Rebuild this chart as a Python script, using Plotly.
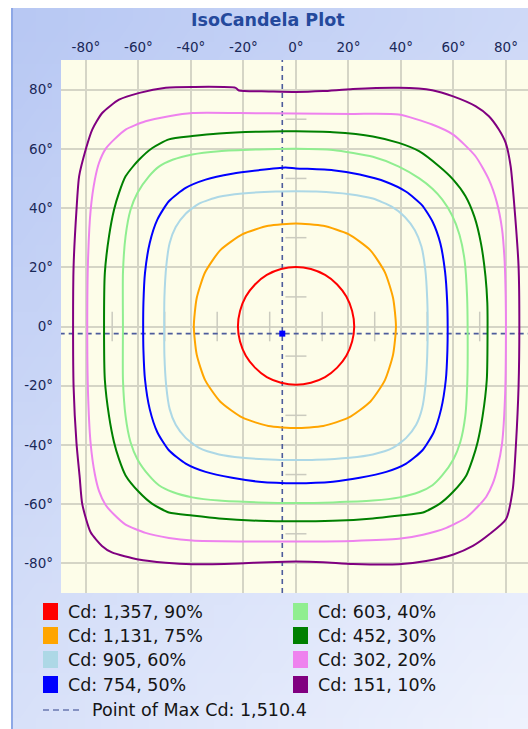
import base64
import struct
import zlib

import plotly.graph_objects as go

# ---------------------------------------------------------------------------
# Iso-candela contours (horizontal angle, vertical angle) in degrees
# ---------------------------------------------------------------------------
CD_VALUES = [1357, 1131, 905, 754, 603, 452, 302, 151]
PERCENTS = [90, 75, 60, 50, 40, 30, 20, 10]
LINE_COLORS = ["#ff0000", "#ffa500", "#add8e6", "#0000ff",
               "#90ee90", "#008000", "#ee82ee", "#800080"]

ISO_90 = [(0, 20.1), (-5.7, 19.4), (-11.1, 17.4), (-15.6, 14.2), (-19.1, 10.1), (-21.3, 5.2),
          (-22.1, 0), (-21.3, -5.1), (-19.1, -9.9), (-15.6, -13.9), (-11.1, -17.1),
          (-5.7, -19.0), (0, -19.7), (5.7, -19.0), (11.1, -17.1), (15.7, -13.9), (19.2, -9.9),
          (21.4, -5.1), (22.2, 0), (21.4, 5.2), (19.2, 10.1), (15.7, 14.2), (11.1, 17.4),
          (5.7, 19.4), (0, 20.1)]

ISO_75 = [(0, 34.8), (-10.5, 34.0), (-20.3, 31.2), (-28.8, 25.8), (-34.6, 18.3), (-37.8, 9.6),
          (-38.9, 0), (-37.8, -9.5), (-34.6, -18.1), (-28.8, -25.4), (-20.3, -30.8),
          (-10.5, -33.6), (0, -34.3), (10.4, -33.6), (20.0, -30.8), (28.3, -25.4),
          (33.9, -18.1), (37.0, -9.5), (38.1, 0), (37.0, 9.6), (33.9, 18.3), (28.3, 25.8),
          (20.0, 31.2), (10.4, 34.0), (0, 34.8)]

ISO_60 = [(0, 45.7), (-7.7, 45.6), (-20.4, 44.9), (-29.3, 43.8), (-36.9, 41.5), (-42.0, 38.1),
          (-45.8, 33.6), (-48.1, 28.2), (-49.4, 20.4), (-50.1, 10), (-50.2, 0), (-50.1, -10),
          (-49.4, -20.2), (-48.1, -27.9), (-45.8, -33.2), (-42.0, -37.6), (-36.9, -41.0),
          (-29.3, -43.2), (-20.4, -44.3), (-7.7, -45.0), (0, -45.1), (7.7, -45.0), (20.4, -44.3),
          (29.3, -43.2), (36.9, -41.0), (42.0, -37.6), (45.8, -33.2), (48.0, -27.9),
          (49.3, -20.2), (50.0, -10), (50.2, 0), (50.0, 9.5), (49.3, 19), (47.8, 27),
          (45.3, 32.5), (41.5, 37), (36.5, 40.5), (29.3, 43.2), (20.4, 44.7), (7.7, 45.6),
          (0, 45.7)]

ISO_50 = [(0, 53.4), (-4, 53.7), (-14.1, 52.8), (-24.3, 51.6), (-34.4, 49.6), (-42.0, 46.8),
          (-48.4, 42.3), (-52.8, 36.1), (-55.7, 28.2), (-57.5, 18.1), (-58.1, 8), (-58.2, 0),
          (-58.1, -8), (-57.5, -17.9), (-55.7, -27.9), (-52.8, -35.7), (-48.4, -41.8),
          (-42.0, -46.3), (-34.4, -49.1), (-24.3, -51.1), (-14.1, -52.4), (0, -52.9),
          (14.1, -52.4), (24.3, -51.1), (34.4, -49.1), (42.0, -46.3), (48.2, -41.8),
          (52.5, -35.7), (55.3, -27.9), (57.1, -17.9), (57.7, -8), (57.8, 0), (57.6, 8.5),
          (56.8, 18.5), (55.0, 28.1), (52.1, 35.3), (48.0, 41.0), (42.0, 45.5), (34.4, 48.8),
          (24.3, 51.3), (14.1, 52.8), (0, 53.4)]

ISO_40 = [(0, 60.0), (-14.1, 59.8), (-29.3, 59.2), (-39.5, 58.1), (-47.0, 56.3), (-52.2, 54.0),
          (-56.0, 50.7), (-60.4, 45.1), (-63.0, 39.4), (-64.9, 30.5), (-65.9, 18.1), (-65.9, 0),
          (-65.9, -18.0), (-64.9, -30.3), (-63.0, -39.1), (-60.4, -44.8), (-56.0, -50.3),
          (-52.2, -53.6), (-47.0, -55.9), (-39.5, -57.7), (-29.3, -58.8), (-14.1, -59.4),
          (0, -59.6), (14.1, -59.4), (29.3, -58.8), (39.5, -57.7), (47.0, -55.9), (52.0, -53.6),
          (55.7, -50.3), (60.0, -44.8), (62.6, -39.1), (64.5, -30.3), (65.3, -18.0), (65.4, 0),
          (65.2, 10), (64.3, 22), (62.3, 31), (59.5, 37.5), (55.7, 42.9), (52.0, 46.5),
          (47.0, 50.0), (39.2, 54.0), (29.3, 57.3), (14.1, 59.6), (0, 60.0)]

ISO_30 = [(0, 65.9), (-14.1, 65.8), (-29.3, 65.2), (-39.5, 64.3), (-48.4, 63.2), (-54.7, 60.3),
          (-59.8, 56.3), (-64.9, 50.7), (-67.4, 45.1), (-69.3, 39.4), (-71.2, 30.5),
          (-72.8, 18.1), (-73.1, 0), (-72.8, -18.0), (-71.2, -30.3), (-69.3, -39.1),
          (-67.4, -44.8), (-64.9, -50.3), (-59.8, -55.9), (-54.7, -59.9), (-48.4, -62.8),
          (-39.5, -63.8), (-29.3, -64.8), (-14.1, -65.6), (0, -65.8), (14.1, -65.6),
          (29.3, -64.8), (39.5, -63.8), (48.4, -62.8), (54.7, -59.9), (59.8, -55.9),
          (64.9, -50.3), (67.3, -44.8), (69.2, -39.1), (71.1, -30.3), (72.7, -18.0), (73.0, 0),
          (72.9, 8), (72.2, 17), (70.5, 28), (68.0, 37), (64.6, 44.0), (59.9, 49.6),
          (54.5, 54.1), (46.9, 59.2), (39.2, 62.0), (29.3, 64.2), (14.1, 65.6), (0, 65.9)]

ISO_20 = [(0, 71.9), (-21.7, 72.1), (-39.5, 72.1), (-48.4, 71.0), (-57.3, 69.3), (-64.9, 66.5),
          (-69.3, 63.1), (-72.5, 60.0), (-75.0, 55.3), (-76.6, 49.6), (-78.2, 39.4),
          (-79.2, 22.6), (-79.5, 0), (-79.2, -22.6), (-78.2, -39.6), (-76.6, -49.9),
          (-75.0, -55.6), (-72.5, -60.3), (-69.3, -63.5), (-64.9, -66.9), (-57.3, -69.7),
          (-48.4, -71.4), (-39.5, -72.3), (-21.7, -72.6), (0, -72.6), (21.7, -72.4),
          (39.2, -71.7), (48.4, -70.3), (57.3, -68.0), (64.9, -64.5), (69.3, -60.8),
          (72.5, -57.5), (75.0, -53.0), (76.8, -47.6), (78.5, -39.6), (79.7, -22.6), (80.0, 0),
          (79.9, 10), (79.5, 22), (78.5, 33), (76.5, 42), (73.5, 49.6), (68.4, 57.5),
          (59.9, 64.8), (51.9, 68.2), (39.2, 71.6), (21.7, 71.8), (0, 71.9)]

ISO_10 = [(0, 79.2), (-10.3, 79.4), (-21.7, 79.7), (-23, 80.6), (-39.5, 80.9), (-49.6, 80.6),
          (-59.6, 78.9), (-67.4, 76.6), (-73.8, 72.1), (-77.6, 66.5), (-80.0, 60.0),
          (-82.6, 50.7), (-83.6, 39.4), (-84.7, 20.4), (-84.9, 0), (-84.7, -20.4),
          (-83.6, -39.4), (-82.4, -50.7), (-81.4, -60.0), (-78.2, -69.5), (-73.9, -74.1),
          (-70.1, -76.3), (-60.0, -78.7), (-49.6, -79.8), (-39.5, -80.3), (-21.7, -80.0),
          (-10.3, -79.6), (0, -79.4), (10.3, -79.6), (21.7, -80.2), (39.2, -80.3),
          (49.6, -79.2), (60.0, -77.0), (67.4, -74.1), (73.8, -70.1), (80.0, -65.1),
          (82.6, -55.0), (83.8, -40.0), (84.8, -20.4), (85.1, 0), (84.8, 20.4), (83.0, 42.9),
          (81.8, 54.1), (79.9, 62.0), (77.3, 66.5), (73.5, 71.0), (68.4, 74.4), (59.9, 77.7),
          (51.9, 79.8), (39.2, 80.6), (21.7, 80.2), (10.3, 79.5), (0, 79.2)]

CONTOURS = [ISO_90, ISO_75, ISO_60, ISO_50, ISO_40, ISO_30, ISO_20, ISO_10]

# Point of maximum intensity
MAX_CD = 1510.4
MAX_H = -5.2
MAX_V = -2.4

# Axis ticks
TICK_VALS = [-80, -60, -40, -20, 0, 20, 40, 60, 80]
TICK_TEXT = ["-80°", "-60°", "-40°", "-20°", "0°", "20°", "40°", "60°", "80°"]
MINOR_TICKS = [-70, -50, -30, -10, 10, 30, 50, 70]

# ---------------------------------------------------------------------------
# Page geometry (pixels)
# ---------------------------------------------------------------------------
W, H = 528, 729
ML, MR, MT, MB = 61, 0, 60, 136
PW = W - ML - MR
PH = H - MT - MB


def px(x):
    return (x - ML) / PW


def py(y):
    return (H - MB - y) / PH


def gradient_uri(width, height, c0, c1):
    """Small diagonal gradient PNG, stretched by the browser behind the chart."""
    raw = bytearray()
    for j in range(height):
        raw.append(0)
        for i in range(width):
            t = 0.4 * i / (width - 1) + 0.6 * j / (height - 1)
            raw.extend(int(round(a + (b - a) * t)) for a, b in zip(c0, c1))

    def chunk(tag, data):
        return (struct.pack(">I", len(data)) + tag + data
                + struct.pack(">I", zlib.crc32(tag + data) & 0xFFFFFFFF))

    png = (b"\x89PNG\r\n\x1a\n"
           + chunk(b"IHDR", struct.pack(">IIBBBBB", width, height, 8, 2, 0, 0, 0))
           + chunk(b"IDAT", zlib.compress(bytes(raw)))
           + chunk(b"IEND", b""))
    return "data:image/png;base64," + base64.b64encode(png).decode()


fig = go.Figure()

# short marks along the zero axes
tx, ty = [], []
for v in MINOR_TICKS:
    tx += [v, v, None]
    ty += [-5, 5, None]
    tx += [-4, 4, None]
    ty += [v, v, None]
fig.add_trace(go.Scatter(x=tx, y=ty, mode="lines", hoverinfo="skip",
                         line=dict(color="#cbcbbf", width=1.5)))

# cross-hair through the maximum
dash_line = dict(color="#4d5c9c", width=1.6, dash="5px,4px")
fig.add_trace(go.Scatter(x=[MAX_H, MAX_H], y=[-90, 90], mode="lines",
                         line=dash_line, hoverinfo="skip"))
fig.add_trace(go.Scatter(x=[-90, 90], y=[MAX_V, MAX_V], mode="lines",
                         line=dash_line, hoverinfo="skip"))

# iso-candela lines, outermost first
for pts, color, cd, pct in reversed(list(zip(CONTOURS, LINE_COLORS, CD_VALUES, PERCENTS))):
    xs, ys = zip(*pts)
    fig.add_trace(go.Scatter(x=xs, y=ys, mode="lines",
                             name=f"Cd: {cd:,}, {pct}%",
                             line=dict(color=color, width=2, shape="spline", smoothing=0.6)))

fig.add_trace(go.Scatter(x=[MAX_H], y=[MAX_V], mode="markers",
                         marker=dict(symbol="square", size=6, color="#0000ff"),
                         name=f"Point of Max Cd: {MAX_CD:,.1f}"))

# ---------------------------------------------------------------------------
# Background, title and legend
# ---------------------------------------------------------------------------
shapes = [
    dict(type="rect", xref="paper", yref="paper", x0=0, x1=1, y0=0, y1=1,
         fillcolor="#fdfde9", line=dict(width=0), layer="below"),
    dict(type="line", xref="paper", yref="paper", x0=px(12), x1=px(12), y0=py(8), y1=py(H),
         line=dict(color="#8ea8e6", width=2), layer="below"),
]
annotations = [
    dict(text="<b>IsoCandela Plot</b>", xref="paper", yref="paper", x=px(268), y=py(20),
         xanchor="center", yanchor="middle", showarrow=False,
         font=dict(family="DejaVu Sans", size=17.5, color="#24499c")),
]

legend_font = dict(family="DejaVu Sans", size=17.5, color="#151515")
row_y = [612, 636, 660, 685]
col_x = [43, 293]
for k, (color, cd, pct) in enumerate(zip(LINE_COLORS, CD_VALUES, PERCENTS)):
    cx = col_x[k // 4]
    cy = row_y[k % 4]
    shapes.append(dict(type="rect", xref="paper", yref="paper",
                       x0=px(cx), x1=px(cx + 15), y0=py(cy - 9), y1=py(cy + 8),
                       fillcolor=color, line=dict(width=0)))
    annotations.append(dict(text=f"Cd: {cd:,}, {pct}%", xref="paper", yref="paper",
                            x=px(cx + 23), y=py(cy), xanchor="left", yanchor="middle",
                            showarrow=False, font=legend_font))

shapes.append(dict(type="line", xref="paper", yref="paper",
                   x0=px(43), x1=px(83), y0=py(710), y1=py(710),
                   line=dict(color="#6a78b0", width=1.5, dash="6px,4px")))
annotations.append(dict(text=f"Point of Max Cd: {MAX_CD:,.1f}", xref="paper", yref="paper",
                        x=px(90), y=py(710), xanchor="left", yanchor="middle",
                        showarrow=False, font=legend_font))

axis_font = dict(family="DejaVu Sans", size=13.5, color="#1a2858")
fig.update_layout(
    width=W, height=H,
    margin=dict(l=ML, r=MR, t=MT, b=MB, pad=0),
    paper_bgcolor="#ffffff",
    plot_bgcolor="#fdfde9",
    showlegend=False,
    shapes=shapes,
    annotations=annotations,
    images=[dict(source=gradient_uri(32, 32, (184, 200, 243), (238, 242, 253)),
                 xref="paper", yref="paper", x=px(12), y=py(8),
                 sizex=(W - 12) / PW, sizey=(H - 8) / PH,
                 xanchor="left", yanchor="top", sizing="stretch", layer="below")],
    xaxis=dict(range=[-89.5, 88.4], side="top", tickvals=TICK_VALS, ticktext=TICK_TEXT,
               showgrid=True, gridcolor="#d5d5c6", gridwidth=1.5, zeroline=False,
               showline=False, ticks="", ticklabelstandoff=4, tickfont=axis_font,
               fixedrange=True),
    yaxis=dict(range=[-90, 90], tickvals=TICK_VALS, ticktext=TICK_TEXT,
               showgrid=True, gridcolor="#d5d5c6", gridwidth=1.5, zeroline=False,
               showline=False, ticks="", ticklabelstandoff=7, tickfont=axis_font,
               fixedrange=True),
)

fig.write_html("out.html", config={"displayModeBar": False})
